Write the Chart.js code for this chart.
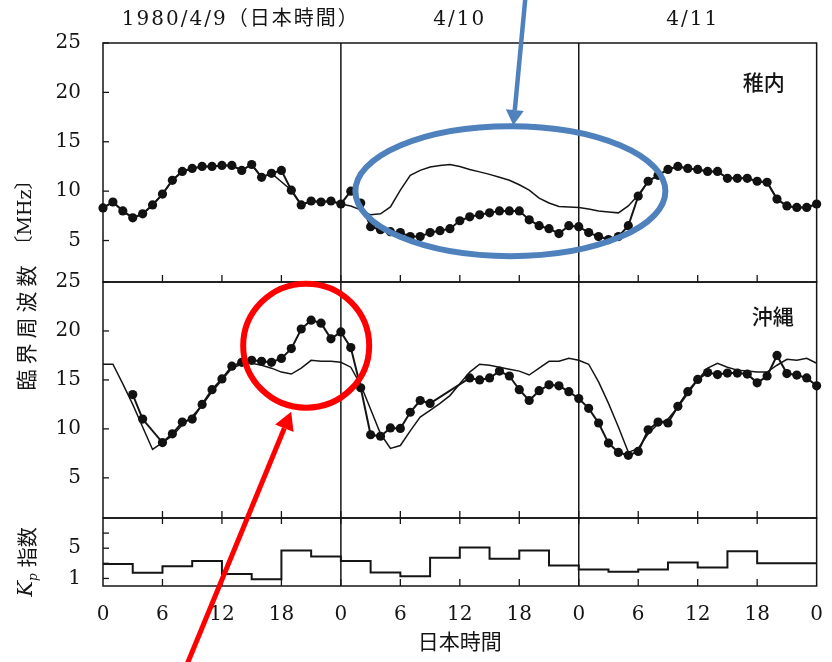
<!DOCTYPE html>
<html>
<head>
<meta charset="utf-8">
<script src="https://cdn.jsdelivr.net/npm/chart.js@4.4.1/dist/chart.umd.min.js"></script>
<style>
  html, body { margin: 0; padding: 0; background: #fff; }
  #wrap { width: 832px; height: 662px; }
</style>
</head>
<body>
<div id="wrap"><canvas id="chart" width="832" height="662"></canvas></div>
<script>
// Critical frequency 1980/4/9-4/11 (JST): Wakkanai, Okinawa, and Kp index

const hours = Array.from({ length: 73 }, (_, i) => i);   // 0..72 h from 4/9 00:00
const xTicks = [0, 6, 12, 18, 24, 30, 36, 42, 48, 54, 60, 66, 72];
const dayLines = [24, 48];
const freqTicks = [5, 10, 15, 20, 25];
const kpTicks = [1, 3, 5, 7];
const kpLabels = [1, 5];

// 稚内 observed (dots) and model (thin line), MHz
const wakkanaiObs = [
  8.3, 8.9, 8.0, 7.3, 7.7, 8.6, 9.7, 11.1, 12.0, 12.3, 12.5, 12.5, 12.6, 12.6, 12.1, 12.7, 11.4, 11.8, 12.1, 10.1, 8.6, 9.0, 8.9, 9.0,
  8.7, 10.0, 8.8, 6.4, 6.1, 5.9, 5.8, 5.4, 5.4, 5.8, 6.0, 6.2, 7.0, 7.4, 7.6, 7.8, 8.0, 8.0, 8.0, 7.1, 6.5, 6.2, 5.7, 6.5,
  6.4, 5.8, 5.4, 5.1, 5.4, 6.5, 9.5, 11.0, 11.6, 12.2, 12.5, 12.3, 12.2, 12.0, 12.0, 11.3, 11.3, 11.3, 11.0, 10.9, 9.2, 8.5, 8.35, 8.35,
  8.7
];
const wakkanaiModel = [
  8.3, 8.9, 8.0, 7.3, 7.7, 8.6, 9.7, 11.1, 12.0, 12.3, 12.5, 12.5, 12.6, 12.6, 12.1, 12.7, 11.4, 11.8, 10.95, 10.1, 8.6, 9.0, 8.9, 9.0,
  8.7, 8.5, 8.1, 7.6, 7.7, 8.4, 10.1, 11.6, 12.1, 12.45, 12.6, 12.7, 12.5, 12.2, 11.95, 11.7, 11.4, 11.1, 10.65, 10.1, 9.3, 8.8, 8.45, 8.4,
  8.35, 8.2, 8.0, 7.9, 7.8, 8.5, 9.6, 11.0, 11.6, 12.2, 12.5, 12.3, 12.2, 12.0, 12.0, 11.3, 11.3, 11.3, 11.0, 10.9, 9.2, 8.5, 8.35, 8.35,
  8.7
];

// 沖縄 observed (dots) and model (thin line), MHz
const okinawaObs = [
  null, null, null, 13.5, 11.0, null, 8.6, 9.5, 10.7, 11.0, 12.5, 14.0, 15.1, 16.4, 16.8, 17.0, 16.9, 16.8, 17.2, 18.2, 20.2, 21.1, 20.8, 19.2,
  19.9, 18.3, 14.2, 9.4, 9.25, 10.1, 10.05, 11.7, 12.9, 12.6, null, null, null, 15.2, 15.0, 15.2, 15.9, 15.4, 14.0, 12.9, 13.9, 14.5, 14.4, 13.8,
  13.1, 12.1, 10.6, 8.55, 7.6, 7.3, 7.7, 9.9, 10.7, 10.6, 12.3, 13.8, 15.05, 15.75, 15.55, 15.7, 15.7, 15.6, 14.7, 15.4, 17.5, 15.65, 15.5, 15.2,
  14.4
];
const okinawaModel = [
  16.6, 16.6, 14.6, 12.5, 10.2, 7.9, 8.6, 9.3, 10.4, 11.3, 12.4, 13.8, 15.0, 16.2, 16.6, 16.7, 16.5, 16.2, 15.8, 15.6, 16.2, 17.0, 16.9, 16.9,
  16.8, 16.3, 14.5, 12.0, 9.5, 8.0, 8.3, 9.8, 11.2, 11.9, 12.6, 13.4, 14.6, 15.8, 16.6, 16.5, 16.3, 16.1, 15.9, 15.5, 16.2, 16.9, 16.9, 17.2,
  17.0, 16.6, 14.8, 12.6, 10.2, 7.6, 8.0, 9.5, 10.5, 11.0, 12.2, 13.6, 15.0, 16.2, 16.7, 16.3, 16.0, 15.9, 15.8, 15.8, 16.5, 17.1, 17.0, 17.2,
  16.7
];

// Kp, 3-hour blocks (last value repeated to close the step at 72 h)
const kpHours = [0, 3, 6, 9, 12, 15, 18, 21, 24, 27, 30, 33, 36, 39, 42, 45, 48, 51, 54, 57, 60, 63, 66, 69, 72];
const kpValues = [2.9, 1.75, 2.6, 3.3, 1.6, 0.9, 4.7, 3.9, 3.3, 1.8, 1.3, 3.75, 5.1, 3.6, 4.7, 2.7, 2.2, 1.9, 2.2, 3.1, 2.45, 4.6, 3.0, 3.0, 3.0];

const INK = '#151515';
const SERIF = '"DejaVu Serif", "Liberation Serif", serif';
const CJK = '"Noto Sans CJK JP", "Noto Sans", sans-serif';

const pts = (xs, ys) => xs.map((x, i) => ({ x, y: ys[i] }));
const fixedTicks = list => scale => { scale.ticks = list.map(v => ({ value: v })); };

function line(ctx, x1, y1, x2, y2) {
  ctx.beginPath();
  ctx.moveTo(x1, y1);
  ctx.lineTo(x2, y2);
  ctx.stroke();
}

function arrow(ctx, x1, y1, x2, y2, color, width, head, headW) {
  const ang = Math.atan2(y2 - y1, x2 - x1);
  const bx = x2 - head * Math.cos(ang), by = y2 - head * Math.sin(ang);
  ctx.strokeStyle = color;
  ctx.fillStyle = color;
  ctx.lineWidth = width;
  line(ctx, x1, y1, bx, by);
  ctx.beginPath();
  ctx.moveTo(x2, y2);
  ctx.lineTo(bx + headW * Math.sin(ang), by - headW * Math.cos(ang));
  ctx.lineTo(bx - headW * Math.sin(ang), by + headW * Math.cos(ang));
  ctx.closePath();
  ctx.fill();
}

// frames, day boundaries and inward ticks
const panelPlugin = {
  id: 'panels',
  beforeDatasetsDraw(chart) {
    const { ctx, chartArea: a, scales } = chart;
    const x = scales.x;
    const panels = [scales.yTop, scales.yMid, scales.yKp];
    ctx.save();
    ctx.strokeStyle = INK;
    ctx.lineWidth = 1.5;
    panels.forEach(y => ctx.strokeRect(a.left, y.top, a.right - a.left, y.bottom - y.top));
    dayLines.forEach(h => {
      const px = x.getPixelForValue(h);
      line(ctx, px, a.top, px, a.bottom);
    });
    ctx.lineWidth = 1.3;
    panels.forEach((y, i) => {
      y.ticks.forEach(t => {
        const py = y.getPixelForValue(t.value);
        line(ctx, a.left, py, a.left + 6, py);
      });
      xTicks.slice(1, -1).forEach(h => {
        const px = x.getPixelForValue(h);
        line(ctx, px, y.bottom, px, y.bottom - 7);
        if (i === 2) line(ctx, px, y.top, px, y.top + 6);
      });
    });
    ctx.restore();
  }
};

// titles, labels and the coloured highlights
const textPlugin = {
  id: 'texts',
  afterDraw(chart) {
    const { ctx, chartArea: a, scales } = chart;
    const x = scales.x, yTop = scales.yTop, yMid = scales.yMid, yKp = scales.yKp;
    ctx.save();
    ctx.fillStyle = INK;
    ctx.textBaseline = 'middle';
    ctx.textAlign = 'center';

    ctx.font = '20px ' + SERIF + ', ' + CJK;
    ctx.letterSpacing = '2px';
    ctx.fillText('1980/4/9（日本時間）', x.getPixelForValue(13.9), 20);
    ctx.fillText('4/10', x.getPixelForValue(36), 20);
    ctx.fillText('4/11', x.getPixelForValue(59.5), 20);
    ctx.letterSpacing = '0px';

    ctx.font = '500 21px ' + CJK;
    ctx.fillText('稚内', a.right - 53, yTop.getPixelForValue(21));
    ctx.fillText('沖縄', a.right - 44, yMid.getPixelForValue(21.5));

    ctx.font = '21px ' + CJK;
    ctx.fillText('日本時間', x.getPixelForValue(36), 641);

    // vertical axis titles
    const midY = (yTop.top + yMid.bottom) / 2;
    ctx.translate(26, midY);
    ctx.rotate(-Math.PI / 2);
    ctx.textAlign = 'left';
    const jp = '臨界周波数';
    const unit = '〔MHz〕';
    ctx.letterSpacing = '5px';
    ctx.font = '21px ' + CJK;
    const wJp = ctx.measureText(jp).width;
    ctx.letterSpacing = '0px';
    ctx.font = '19px ' + SERIF + ', ' + CJK;
    const wUnit = ctx.measureText(unit).width;
    const start = -(wJp + 6 + wUnit) / 2;
    ctx.letterSpacing = '5px';
    ctx.font = '21px ' + CJK;
    ctx.fillText(jp, start, 0);
    ctx.letterSpacing = '0px';
    ctx.font = '19px ' + SERIF + ', ' + CJK;
    ctx.fillText(unit, start + wJp + 6, 0);
    ctx.setTransform(1, 0, 0, 1, 0, 0);

    const kpMid = (yKp.top + yKp.bottom) / 2 + 10;
    ctx.translate(27, kpMid);
    ctx.rotate(-Math.PI / 2);
    ctx.textAlign = 'left';
    ctx.font = 'italic 21px ' + SERIF;
    const wK = ctx.measureText('K').width;
    ctx.font = 'italic 12px ' + SERIF;
    const wP = ctx.measureText('p').width;
    ctx.font = '20px ' + CJK;
    const wS = ctx.measureText('指数').width;
    let pos = -(wK + wP + 6 + wS) / 2;
    ctx.font = 'italic 21px ' + SERIF;
    ctx.fillText('K', pos, 0);
    pos += wK;
    ctx.font = 'italic 12px ' + SERIF;
    ctx.fillText('p', pos, 7);
    pos += wP + 6;
    ctx.font = '20px ' + CJK;
    ctx.fillText('指数', pos, 0);
    ctx.setTransform(1, 0, 0, 1, 0, 0);

    // blue highlight on Wakkanai, 4/10 daytime
    const ex = x.getPixelForValue(41.1), ey = yTop.getPixelForValue(10.0);
    ctx.strokeStyle = '#4f81bd';
    ctx.lineWidth = 6;
    ctx.beginPath();
    ctx.ellipse(ex, ey, 155, 65, 0, 0, Math.PI * 2);
    ctx.stroke();
    arrow(ctx, ex + 15, -2, ex + 3, ey - 66, '#4f81bd', 4.5, 15, 9);

    // red highlight on Okinawa, 4/9 evening
    const cx = x.getPixelForValue(20.5), cy = yMid.getPixelForValue(18.5);
    ctx.strokeStyle = '#ff0000';
    ctx.lineWidth = 6;
    ctx.beginPath();
    ctx.ellipse(cx, cy, 63, 62, 0, 0, Math.PI * 2);
    ctx.stroke();
    arrow(ctx, cx - 119, 664, cx - 15, cy + 66, '#ff0000', 5, 18, 10);

    ctx.restore();
  }
};

const tickFont = { family: SERIF, size: 20 };

new Chart(document.getElementById('chart'), {
  type: 'line',
  data: {
    datasets: [
      { label: '稚内 model', data: pts(hours, wakkanaiModel), yAxisID: 'yTop', borderColor: INK, borderWidth: 1.5, pointRadius: 0, tension: 0 },
      { label: '稚内', data: pts(hours, wakkanaiObs), yAxisID: 'yTop', borderColor: INK, borderWidth: 2, pointRadius: 4.6, pointBackgroundColor: '#111', pointBorderWidth: 0, tension: 0, clip: false },
      { label: '沖縄 model', data: pts(hours, okinawaModel), yAxisID: 'yMid', borderColor: INK, borderWidth: 1.5, pointRadius: 0, tension: 0 },
      { label: '沖縄', data: pts(hours, okinawaObs), yAxisID: 'yMid', borderColor: INK, borderWidth: 2, pointRadius: 4.6, pointBackgroundColor: '#111', pointBorderWidth: 0, tension: 0, spanGaps: true, clip: false },
      { label: 'Kp', data: pts(kpHours, kpValues), yAxisID: 'yKp', borderColor: INK, borderWidth: 2, pointRadius: 0, stepped: 'before' },
    ]
  },
  options: {
    responsive: false,
    animation: false,
    events: [],
    layout: { padding: { left: 43, right: 10, top: 43, bottom: 0 } },
    plugins: { legend: { display: false }, tooltip: { enabled: false } },
    // stacked left axes are laid out last-defined-on-top, so Kp comes first here
    scales: {
      x: {
        type: 'linear', min: 0, max: 72,
        afterBuildTicks: fixedTicks(xTicks),
        afterFit: s => { s.height = 76; },
        grid: { display: false }, border: { display: false },
        ticks: { callback: v => v % 24, color: INK, font: tickFont, padding: 9, maxRotation: 0 },
      },
      yKp: {
        type: 'linear', position: 'left', stack: 'panels', stackWeight: 68, min: 0, max: 9,
        afterBuildTicks: fixedTicks(kpTicks),
        afterFit: s => { s.width = 60; },
        grid: { display: false }, border: { display: false },
        ticks: { color: INK, font: tickFont, padding: 14, autoSkip: false, callback: v => kpLabels.includes(v) ? v : '' },
      },
      yMid: {
        type: 'linear', position: 'left', stack: 'panels', stackWeight: 236, min: 0.9, max: 25,
        afterBuildTicks: fixedTicks(freqTicks),
        afterFit: s => { s.width = 60; },
        grid: { display: false }, border: { display: false },
        ticks: { color: INK, font: tickFont, padding: 14 },
      },
      yTop: {
        type: 'linear', position: 'left', stack: 'panels', stackWeight: 239, min: 0.8, max: 25,
        afterBuildTicks: fixedTicks(freqTicks),
        afterFit: s => { s.width = 60; },
        grid: { display: false }, border: { display: false },
        ticks: { color: INK, font: tickFont, padding: 14 },
      },
    }
  },
  plugins: [panelPlugin, textPlugin]
});
</script>
</body>
</html>
